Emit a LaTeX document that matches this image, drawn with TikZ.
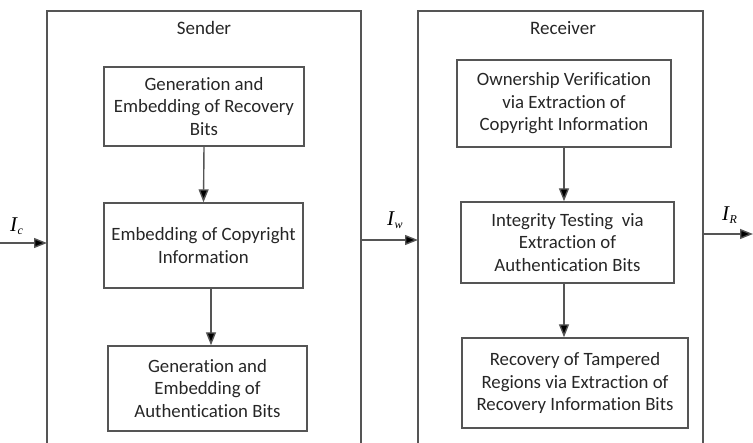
\documentclass[tikz,border=0pt]{standalone}
\usepackage{fontspec}
\setmainfont{Carlito}[Ligatures={NoCommon}]
\newfontfamily\tms{Liberation Serif}
\usetikzlibrary{arrows.meta}
\definecolor{ln}{HTML}{555555}
\definecolor{tx}{HTML}{262626}
\newcommand{\lbl}[2]{{\tms\itshape\fontsize{21}{24}\selectfont #1\kern0.5pt\raisebox{-3pt}{\fontsize{12}{14}\selectfont #2}}}
\tikzset{
  stepbox/.style={draw=ln, line width=1.4pt, rectangle, align=center, text=tx, inner sep=2pt,
    font=\fontsize{18.8}{22.5}\selectfont},
  outer/.style={draw=ln, line width=1.5pt},
  arr/.style={draw=ln, line width=1.4pt, -{Triangle[length=13pt,width=10pt,fill=black]}},
  ttl/.style={text=tx, font=\fontsize{19}{22}\selectfont},
  iolbl/.style={text=black, inner sep=0pt, anchor=base west}
}
\begin{document}
\begin{tikzpicture}[x=1pt,y=-1pt]
\useasboundingbox (0,0) rectangle (753,443);
% outer frames (open at bottom)
\coordinate (sBL) at (47,443);
\coordinate (sTL) at (47,11);
\coordinate (sTR) at (361,11);
\coordinate (sBR) at (361,443);
\coordinate (rBL) at (418,443);
\coordinate (rTL) at (418,11);
\coordinate (rTR) at (703,11);
\coordinate (rBR) at (703,443);
\draw[outer] (sBL) -- (sTL) -- (sTR) -- (sBR);
\draw[outer] (rBL) -- (rTL) -- (rTR) -- (rBR);
\node[ttl] (sttl) at (204,28) {Sender};
\node[ttl] (rttl) at (563,28) {Receiver};
% sender boxes
\node[stepbox, minimum width=200pt, minimum height=79pt] (S1) at (204,106.5)
  {Generation and\\Embedding of Recovery\\Bits};
\node[stepbox, minimum width=199pt, minimum height=85pt] (S2) at (203.5,245.5)
  {Embedding of Copyright\\Information};
\node[stepbox, minimum width=199pt, minimum height=85pt] (S3) at (207.5,388.5)
  {Generation and\\Embedding of\\Authentication Bits};
% receiver boxes
\node[stepbox, minimum width=214pt, minimum height=87pt] (R1) at (564,103.5)
  {Ownership Verification\\via Extraction of\\Copyright Information};
\node[stepbox, minimum width=213pt, minimum height=81pt] (R2) at (567.5,242.5)
  {Integrity Testing\ \ via\\Extraction of\\Authentication Bits};
\node[stepbox, minimum width=226pt, minimum height=90pt] (R3) at (575,383)
  {Recovery of Tampered\\Regions via Extraction of\\Recovery Information Bits};
% internal arrows
\draw[arr] (S1.south) -- (S2.north);
\draw[arr] ([xshift=7.5pt]S2.south) -- ([xshift=3.5pt]S3.north);
\draw[arr] (R1.south) -- ([xshift=-3.5pt]R2.north);
\draw[arr] ([xshift=-3.5pt]R2.south) -- ([xshift=-11pt]R3.north);
% io arrows
\coordinate (in0) at (0,243);
\coordinate (in1) at (47,243);
\coordinate (w0) at (361,240);
\coordinate (w1) at (418,240);
\coordinate (o0) at (703,234);
\coordinate (o1) at (753,234);
\draw[arr] (in0) -- (in1);
\draw[arr] (w0) -- (w1);
\draw[arr] (o0) -- (o1);
\node[iolbl] (lc) at (10,232) {\lbl{I}{c}};
\node[iolbl] (lw) at (387,226) {\lbl{I}{w}};
\node[iolbl] (lr) at (722,221) {\lbl{I}{R}};
\end{tikzpicture}
\end{document}
